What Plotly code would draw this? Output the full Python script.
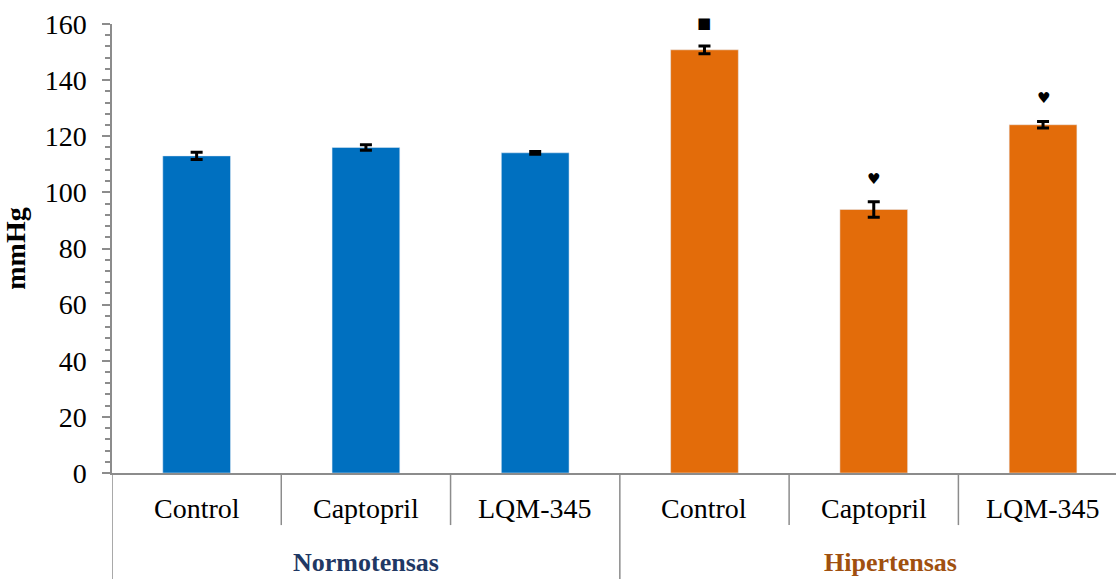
import plotly.graph_objects as go

# Presión arterial (mmHg), media ± EEM
groups = ["Normotensas", "Hipertensas"]
treatments = ["Control", "Captopril", "LQM-345"]
normo_mean = [113.0, 116.0, 114.1]
normo_sem = [1.3, 1.0, 0.5]
hiper_mean = [150.8, 93.9, 124.1]
hiper_sem = [1.4, 2.8, 1.2]
hiper_marks = ["■", "♥", "♥"]
y_ticks = [0, 20, 40, 60, 80, 100, 120, 140, 160]

BLUE = "#0070C0"
ORANGE = "#E36C0A"
AXIS = "#8C8C8C"
SERIF = "Liberation Serif, Times New Roman, serif"

n = len(treatments)
x_normo = list(range(n))
x_hiper = [n + i for i in range(n)]

fig = go.Figure()
err_style = dict(type="data", visible=True, color="black", thickness=3, width=6)
fig.add_bar(x=x_normo, y=normo_mean, marker_color=BLUE, width=0.40,
            error_y=dict(array=normo_sem, **err_style), showlegend=False)
fig.add_bar(x=x_hiper, y=hiper_mean, marker_color=ORANGE, width=0.40,
            error_y=dict(array=hiper_sem, **err_style), showlegend=False)

# significance symbols above the hypertensive bars
for x, m, s, mark in zip(x_hiper, hiper_mean, hiper_sem, hiper_marks):
    fig.add_annotation(x=x, y=m + s, xref="x", yref="y", text=mark, showarrow=False,
                       yanchor="middle", yshift=23,
                       font=dict(family="DejaVu Sans", size=15, color="black"))

# category labels
for x, lab in zip(x_normo + x_hiper, treatments + treatments):
    fig.add_annotation(x=x, y=-0.08, xref="x", yref="paper", text=lab, showarrow=False,
                       yanchor="middle", font=dict(family=SERIF, size=28, color="black"))

# group labels
fig.add_annotation(x=1.0, y=-0.20, xref="x", yref="paper", text="<b>" + groups[0] + "</b>",
                   showarrow=False, yanchor="middle",
                   font=dict(family=SERIF, size=26, color="#1F3864"))
fig.add_annotation(x=4.1, y=-0.20, xref="x", yref="paper", text="<b>" + groups[1] + "</b>",
                   showarrow=False, yanchor="middle",
                   font=dict(family=SERIF, size=26, color="#A0500F"))

# dividers of the category axis
for xd in [0.5, 1.5, 3.5, 4.5]:
    fig.add_shape(type="line", xref="x", yref="paper", x0=xd, x1=xd, y0=0, y1=-0.116,
                  line=dict(color=AXIS, width=1.5))
for xd in [-0.5, 2.5]:
    fig.add_shape(type="line", xref="x", yref="paper", x0=xd, x1=xd, y0=0, y1=-0.25,
                  line=dict(color=AXIS, width=1.5))

fig.update_xaxes(range=[-0.5, 5.431], showticklabels=False, ticks="", showgrid=False,
                 zeroline=False, showline=True, linecolor=AXIS, linewidth=1.5)
fig.update_yaxes(range=[0, 160], tickvals=y_ticks, showgrid=False, zeroline=False,
                 showline=True, linecolor=AXIS, linewidth=1.5,
                 ticks="outside", ticklen=8, tickwidth=1.5, tickcolor=AXIS,
                 minor=dict(dtick=4, ticks="outside", ticklen=5, tickwidth=1.5, tickcolor=AXIS),
                 ticklabelstandoff=10,
                 tickfont=dict(family=SERIF, size=28, color="black"),
                 title=dict(text="<b>mmHg</b>", standoff=24,
                            font=dict(family=SERIF, size=28, color="black")))

fig.update_layout(width=1116, height=579, margin=dict(l=112, r=0, t=24, b=106),
                  plot_bgcolor="white", paper_bgcolor="white", bargap=0.6)

fig.write_html("out.html")
